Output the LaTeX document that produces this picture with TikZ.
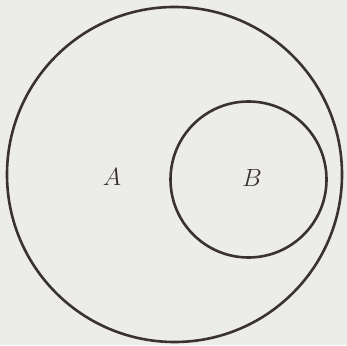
\documentclass[tikz,border=0pt]{standalone}
\definecolor{bgc}{HTML}{ECECEA}
\definecolor{inkc}{HTML}{3A3232}
\begin{document}
\begin{tikzpicture}[x=1pt,y=1pt,
  setcircle/.style={draw=inkc,line width=2.6pt,circle,inner sep=0pt},
  setlabel/.style={text=inkc,font=\fontsize{24}{28}\selectfont\itshape}]
\fill[bgc] (0,0) rectangle (347,345);
\useasboundingbox (0,0) rectangle (347,345);
\node[setcircle,minimum size=335pt] (A) at (174.5,170.5) {};
\node[setcircle,minimum size=156pt] (B) at (248.5,165.5) {};
\node[setlabel] (la) at (112,168) {$A$};
\node[setlabel] (lb) at (252,167) {$B$};
\end{tikzpicture}
\end{document}
